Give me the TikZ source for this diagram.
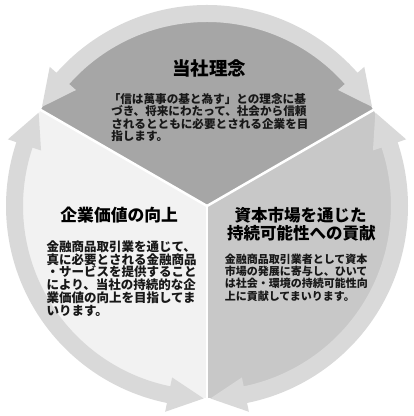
\documentclass[tikz,border=0pt]{standalone}
\usepackage{fontspec}
\newfontfamily\jp{Noto Sans CJK JP}
\definecolor{topc}{RGB}{166,166,166}
\definecolor{leftc}{RGB}{242,242,242}
\definecolor{rightc}{RGB}{200,200,200}
\definecolor{bandc}{RGB}{217,217,217}
\definecolor{txt}{RGB}{24,24,24}
\newcommand\bandarrow[2]{%
  \fill[bandc] (#1:192.5) -- ({#1+10.5}:210) -- ({#1+10.5}:201)
    arc[start angle={#1+10.5}, end angle={#2-10.5}, radius=201]
    -- ({#2-10.5}:210) -- (#2:192.5) -- ({#2-10.5}:175) -- ({#2-10.5}:184)
    arc[start angle={#2-10.5}, end angle={#1+10.5}, radius=184]
    -- ({#1+10.5}:175) -- cycle;}
\tikzset{
  toptxt/.style={anchor=base west,inner sep=0pt,text=txt,font=\jp\bfseries\fontsize{8.7pt}{8.7pt}\selectfont},
  lefttxt/.style={anchor=base west,inner sep=0pt,text=txt,font=\jp\bfseries\fontsize{9.375pt}{9.375pt}\selectfont},
  righttxt/.style={anchor=base west,inner sep=0pt,text=txt,font=\jp\bfseries\fontsize{8.25pt}{8.25pt}\selectfont},
  toptitle/.style={anchor=base,inner sep=0pt,text=black,font=\jp\bfseries\fontsize{13.875pt}{13.875pt}\selectfont},
  sidetitle/.style={anchor=base,inner sep=0pt,text=black,font=\jp\bfseries\fontsize{12.5pt}{12.5pt}\selectfont},
  gapline/.style={white,line width=1.9pt}
}
\begin{document}
\begin{tikzpicture}[x=0.75pt,y=0.75pt]
\useasboundingbox (0,0) rectangle (413,416);
\fill[white] (0,0) rectangle (413,416);
\coordinate (C) at (207,210);
\begin{scope}[shift={(C)}]
  % sectors
  \fill[topc] (0,0) -- (30:192) arc[start angle=30,end angle=150,radius=192] -- cycle;
  \fill[leftc] (0,0) -- (150:192) arc[start angle=150,end angle=270,radius=192] -- cycle;
  \fill[rightc] (0,0) -- (270:192) arc[start angle=270,end angle=390,radius=192] -- cycle;
  % separators
  \coordinate (e1) at (30:193);
  \coordinate (e2) at (150:193);
  \coordinate (e3) at (270:193);
  \draw[gapline] (0,0) -- (e1);
  \draw[gapline] (0,0) -- (e2);
  \draw[gapline] (0,0) -- (e3);
  % ring arrows
  \bandarrow{31}{149}
  \bandarrow{151}{269}
  \bandarrow{271}{389}
\end{scope}
% top block
\node[toptitle] (t0) at (209,340.7) {当社理念};
\node[toptxt] (t1) at (108.5,312.3) {「信は萬事の基と為す」との理念に基};
\node[toptxt] (t2) at (111,300.1) {づき、将来にわたって、社会から信頼};
\node[toptxt] (t3) at (111,287.9) {されるとともに必要とされる企業を目};
\node[toptxt] (t4) at (111,275.7) {指します。};
% left block
\node[sidetitle,font=\jp\bfseries\fontsize{12.6pt}{12.6pt}\selectfont] (l0) at (119.2,194.6) {企業価値の向上};
\node[lefttxt] (l1) at (46.3,164.75) {金融商品取引業を通じて、};
\node[lefttxt] (l2) at (46.3,151.95) {真に必要とされる金融商品};
\node[lefttxt] (l3) at (46.3,139.15) {・サービスを提供すること};
\node[lefttxt] (l4) at (46.3,126.35) {により、当社の持続的な企};
\node[lefttxt] (l5) at (46.3,113.55) {業価値の向上を目指してま};
\node[lefttxt] (l6) at (46.3,100.75) {いります。};
% right block
\node[sidetitle,font=\jp\bfseries\fontsize{12.375pt}{12.375pt}\selectfont] (r0) at (300.5,194.7) {資本市場を通じた};
\node[sidetitle,font=\jp\bfseries\fontsize{12.375pt}{12.375pt}\selectfont] (r00) at (301.3,176.4) {持続可能性への貢献};
\node[righttxt] (r1) at (224.5,152.8) {金融商品取引業者として資本};
\node[righttxt] (r2) at (224.5,140.4) {市場の発展に寄与し、ひいて};
\node[righttxt] (r3) at (224.5,128) {は社会・環境の持続可能性向};
\node[righttxt] (r4) at (224.5,115.6) {上に貢献してまいります。};
\end{tikzpicture}
\end{document}
